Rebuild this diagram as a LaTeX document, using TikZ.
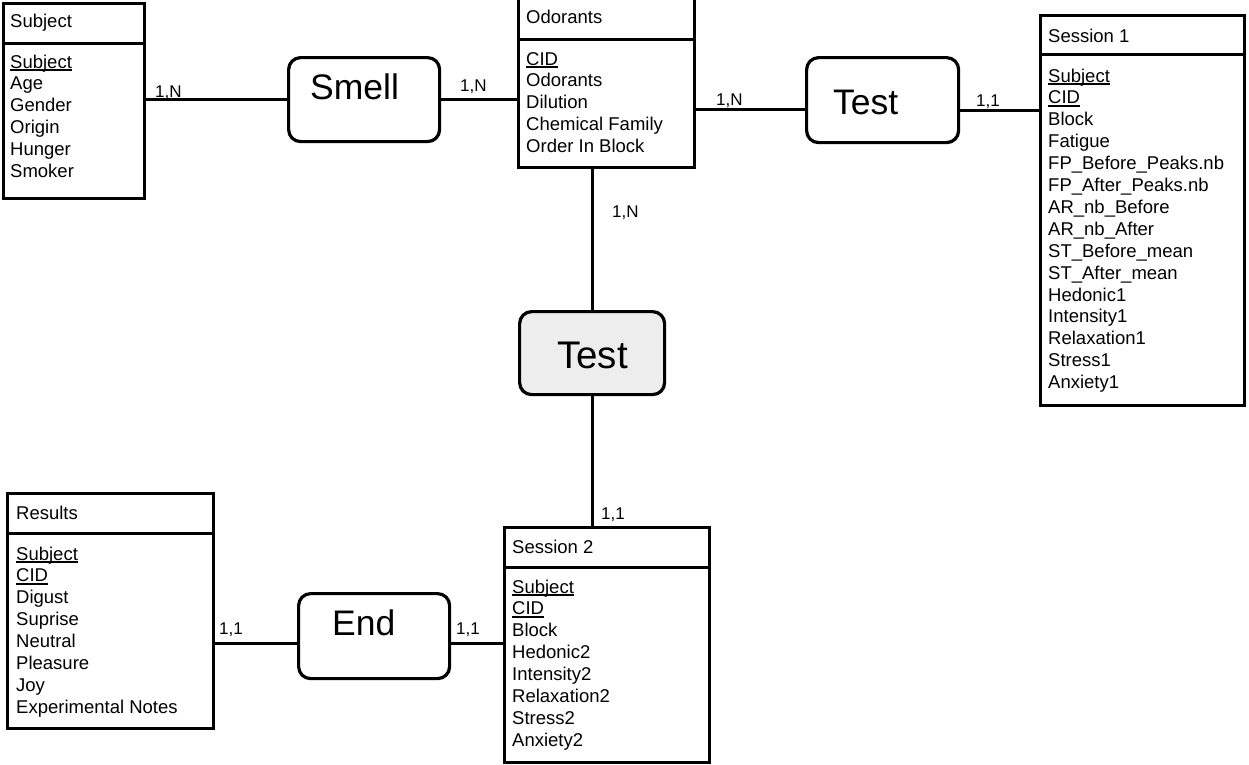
\documentclass[tikz,border=0pt]{standalone}
\usepackage{fontspec}
\setmainfont{Liberation Sans}
\newcommand{\uln}[1]{\setbox0\hbox{#1}\rlap{\rule[-2.6pt]{\wd0}{1.3pt}}\box0}
\begin{document}
\begin{tikzpicture}[x=1pt,y=-1pt,
  ent/.style={draw, line width=3.4pt, inner sep=0pt, anchor=north west},
  rel/.style={draw, line width=3.2pt, rounded corners=12pt, inner sep=0pt, anchor=north west},
  conn/.style={line width=3pt},
  attr/.style={anchor=base west, inner sep=0pt, font=\fontsize{18.5}{22}\selectfont},
  card/.style={anchor=base west, inner sep=0pt, font=\fontsize{17}{20}\selectfont},
  reltext/.style={anchor=base west, inner sep=0pt, font=\fontsize{35.5}{40}\selectfont}]
\useasboundingbox (0,0) rectangle (1249,764);
\fill[white] (0,0) rectangle (1249,764);

% ---------- Entities ----------
% Subject
\node[ent, minimum width=141.5pt, minimum height=39.5pt] (subjH) at (1.5,2) {};
\node[ent, minimum width=141.5pt, minimum height=155pt] (subjB) at (1.5,41.5) {};
\node[attr] (subjT) at (10,27) {Subject};
\foreach \t [count=\i from 0] in {{\uln{Subject}},Age,Gender,Origin,Hunger,Smoker}
  \node[attr] (subjA\i) at (10,68+21.9*\i) {\t};

% Odorants
\node[ent, minimum width=176pt, minimum height=42.5pt] (odoH) at (517,-5) {};
\node[ent, minimum width=176pt, minimum height=128pt] (odoB) at (517,37.5) {};
\node[attr] (odoT) at (526,23) {Odorants};
\foreach \t [count=\i from 0] in {{\uln{CID}},Odorants,Dilution,Chemical Family,Order In Block}
  \node[attr] (odoA\i) at (526,65+21.9*\i) {\t};

% Session 1
\node[ent, minimum width=204pt, minimum height=39.5pt] (s1H) at (1039,13.5) {};
\node[ent, minimum width=204pt, minimum height=351pt] (s1B) at (1039,53) {};
\node[attr] (s1T) at (1048,42) {Session 1};
\foreach \t [count=\i from 0] in {{\uln{Subject}},{\uln{CID}},Block,Fatigue,FP\_Before\_Peaks.nb,FP\_After\_Peaks.nb,AR\_nb\_Before,AR\_nb\_After,ST\_Before\_mean,ST\_After\_mean,Hedonic1,Intensity1,Relaxation1,Stress1,Anxiety1}
  \node[attr] (s1A\i) at (1048,82+21.9*\i) {\t};

% Results
\node[ent, minimum width=206pt, minimum height=40pt] (resH) at (6,492) {};
\node[ent, minimum width=206pt, minimum height=195pt] (resB) at (6,532) {};
\node[attr] (resT) at (16,519) {Results};
\foreach \t [count=\i from 0] in {{\uln{Subject}},{\uln{CID}},Digust,Suprise,Neutral,Pleasure,Joy,Experimental Notes}
  \node[attr] (resA\i) at (16,560+21.9*\i) {\t};

% Session 2
\node[ent, minimum width=205pt, minimum height=40pt] (s2H) at (503,526) {};
\node[ent, minimum width=205pt, minimum height=195pt] (s2B) at (503,566) {};
\node[attr] (s2T) at (512,553) {Session 2};
\foreach \t [count=\i from 0] in {{\uln{Subject}},{\uln{CID}},Block,Hedonic2,Intensity2,Relaxation2,Stress2,Anxiety2}
  \node[attr] (s2A\i) at (512,593+21.9*\i) {\t};

% ---------- Relationships ----------
\node[rel, minimum width=151pt, minimum height=84pt] (smell) at (287,56) {};
\node[reltext] (smellT) at (310,99) {Smell};
\node[rel, minimum width=152pt, minimum height=85pt] (test1) at (805,56) {};
\node[reltext] (test1T) at (833,114) {Test};
\node[rel, minimum width=145pt, minimum height=83pt, fill={rgb,255:red,237;green,237;blue,237}] (testm) at (518,310) {};
\node[reltext, font=\fontsize{38.5}{42}\selectfont] (testmT) at (557,368) {Test};
\node[rel, minimum width=151pt, minimum height=85pt] (endr) at (297,592) {};
\node[reltext] (endT) at (332,635) {End};

% ---------- Connectors ----------
\coordinate (cy1) at (0,109);
\coordinate (cy2) at (0,110);
\coordinate (cx3) at (592,0);
\coordinate (cy4) at (0,643);
\draw[conn] (subjB.east |- smell.west) -- (smell.west);
\draw[conn] (smell.east) -- (odoB.west |- smell.east);
\draw[conn] (odoB.east |- cy1) -- (test1.west |- cy1);
\draw[conn] (test1.east |- cy2) -- (s1B.west |- cy2);
\draw[conn] (odoB.south -| cx3) -- (testm.north -| cx3);
\draw[conn] (testm.south -| cx3) -- (s2H.north -| cx3);
\draw[conn] (resB.east |- cy4) -- (endr.west |- cy4);
\draw[conn] (endr.east |- cy4) -- (s2B.west |- cy4);

% ---------- Cardinalities ----------
\node[card] (k1) at (155,97) {1,N};
\node[card] (k2) at (460,91) {1,N};
\node[card] (k3) at (716,105) {1,N};
\node[card] (k4) at (976,106) {1,1};
\node[card] (k5) at (612,217) {1,N};
\node[card] (k6) at (601,519) {1,1};
\node[card] (k7) at (219,634) {1,1};
\node[card] (k8) at (456,634) {1,1};
\end{tikzpicture}
\end{document}
